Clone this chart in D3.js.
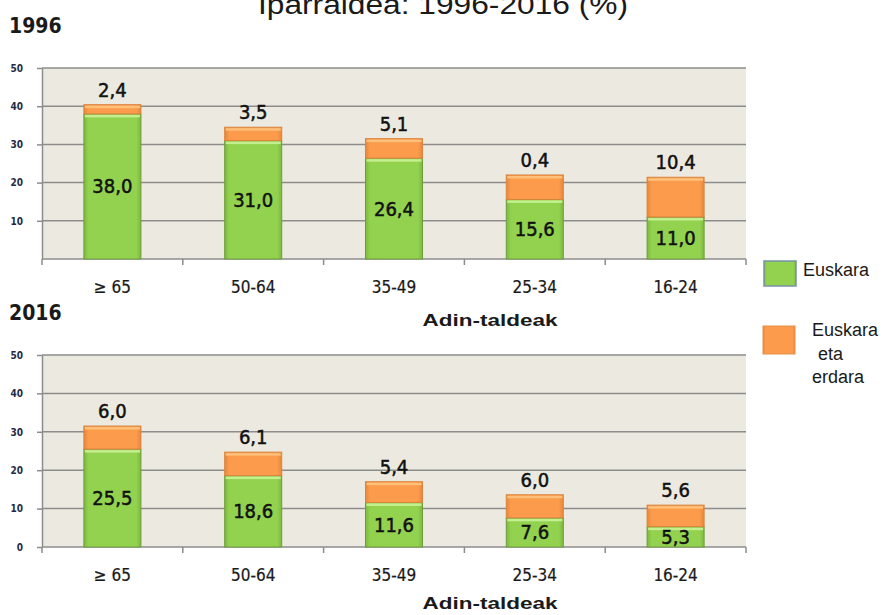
<!DOCTYPE html>
<html>
<head>
<meta charset="utf-8">
<script src="https://cdn.jsdelivr.net/npm/d3@7"></script>
<style>
  html, body { margin: 0; padding: 0; background: #fff; }
  svg { display: block; }
</style>
</head>
<body>
<div id="root"></div>
<script>
const width = 891;
const height = 615;

// data
const categories = ['≥ 65', '50-64', '35-49', '25-34', '16-24'];
const euskara1996 = [38.0, 31.0, 26.4, 15.6, 11.0];
const euskaraEtaErdara1996 = [2.4, 3.5, 5.1, 6.4, 10.4];
const orangeLabels1996 = ['2,4', '3,5', '5,1', '0,4', '10,4'];
const euskara2016 = [25.5, 18.6, 11.6, 7.6, 5.3];
const euskaraEtaErdara2016 = [6.0, 6.1, 5.4, 6.0, 5.6];
const orangeLabels2016 = ['6,0', '6,1', '5,4', '6,0', '5,6'];
const yTicks1996 = [10, 20, 30, 40, 50];
const yTicks2016 = [0, 10, 20, 30, 40, 50];
const seriesNames = ['Euskara', 'Euskara eta erdara'];

const fmt = v => d3.format('.1f')(v).replace('.', ',');
const condensed = 'DejaVu Sans Condensed, DejaVu Sans, sans-serif';
const arial = 'Liberation Sans, Arial, sans-serif';

const svg = d3.select('#root')
    .append('svg')
    .attr('width', width)
    .attr('height', height);

const defs = svg.append('defs');
const grad = (id, edge, mid) => {
    const g = defs.append('linearGradient').attr('id', id)
        .attr('x1', 0).attr('x2', 1).attr('y1', 0).attr('y2', 0);
    g.append('stop').attr('offset', '0%').attr('stop-color', edge);
    g.append('stop').attr('offset', '8%').attr('stop-color', mid);
    g.append('stop').attr('offset', '92%').attr('stop-color', mid);
    g.append('stop').attr('offset', '100%').attr('stop-color', edge);
};
grad('gGreen', '#7cb83e', '#93d24f');
grad('gOrange', '#e8863a', '#fb9b4b');
const fills = ['url(#gGreen)', 'url(#gOrange)'];
const strokes = ['#6f9c3c', '#d9843f'];
const highlights = ['#c4ef8e', '#ffc07a'];

// title (cut at the top in the original)
svg.append('text')
    .attr('x', 258).attr('y', 14)
    .attr('font-family', arial)
    .attr('font-size', 27)
    .attr('fill', '#1a1a1a')
    .attr('textLength', 370)
    .attr('lengthAdjust', 'spacingAndGlyphs')
    .text('Iparraldea:  1996-2016 (%)');

const x = d3.scaleBand()
    .domain(categories)
    .range([42, 746])
    .paddingInner(0.595)
    .paddingOuter(0.2975);

function drawPanel(year, top, bottom, titleY, green, orange, orangeLabels, ticks) {
    const g = svg.append('g');
    const y = d3.scaleLinear().domain([0, 50]).range([bottom, top]);

    g.append('text')
        .attr('x', 9).attr('y', top - 35)
        .attr('font-family', condensed)
        .attr('font-weight', 'bold')
        .attr('font-size', 21)
        .attr('fill', '#1a1a1a')
        .text(year);

    g.append('rect')
        .attr('x', 42).attr('y', top)
        .attr('width', 746 - 42).attr('height', bottom - top)
        .attr('fill', '#eceae0');

    g.selectAll('line.grid')
        .data(yTicks1996)
        .join('line')
        .attr('class', 'grid')
        .attr('x1', 42).attr('x2', 746)
        .attr('y1', d => y(d)).attr('y2', d => y(d))
        .attr('stroke', '#8c8c8c')
        .attr('stroke-width', 1.5);

    const yAxis = g.append('g')
        .attr('transform', 'translate(42,0)')
        .call(d3.axisLeft(y).tickValues(ticks).tickSize(5).tickSizeOuter(0));
    yAxis.select('.domain').attr('stroke', '#8c8c8c').attr('stroke-width', 1.5);
    yAxis.selectAll('.tick line').attr('stroke', '#8c8c8c').attr('stroke-width', 1.5);
    yAxis.selectAll('.tick text')
        .attr('x', -19)
        .attr('font-family', condensed)
        .attr('font-weight', 'bold')
        .attr('font-size', 10)
        .attr('fill', '#1f2a44');

    // bottom axis with ticks at band boundaries
    g.append('line')
        .attr('x1', 42).attr('x2', 746)
        .attr('y1', bottom).attr('y2', bottom)
        .attr('stroke', '#8c8c8c').attr('stroke-width', 1.5);
    const bounds = categories.map(c => x(c) - x.step() * x.paddingInner() / 2)
        .concat([746]);
    g.selectAll('line.xt')
        .data(bounds)
        .join('line')
        .attr('class', 'xt')
        .attr('x1', d => d).attr('x2', d => d)
        .attr('y1', bottom).attr('y2', bottom + 6)
        .attr('stroke', '#8c8c8c').attr('stroke-width', 1.5);
    g.selectAll('text.cat')
        .data(categories)
        .join('text')
        .attr('class', 'cat')
        .attr('x', d => x(d) + x.bandwidth() / 2)
        .attr('y', bottom + 34)
        .attr('text-anchor', 'middle')
        .attr('font-family', condensed)
        .attr('font-size', 17)
        .attr('fill', '#1a1a1a')
        .attr('stroke', '#1a1a1a')
        .attr('stroke-width', 0.2)
        .text(d => d);

    g.append('text')
        .attr('x', 490).attr('y', titleY)
        .attr('text-anchor', 'middle')
        .attr('font-family', arial)
        .attr('font-weight', 'bold')
        .attr('font-size', 17)
        .attr('fill', '#1a1a1a')
        .attr('textLength', 135)
        .attr('lengthAdjust', 'spacingAndGlyphs')
        .text('Adin-taldeak');

    const rows = categories.map((c, i) => ({cat: c, s0: green[i], s1: orange[i]}));
    const stacked = d3.stack().keys(['s0', 's1'])(rows);

    stacked.forEach((layer, li) => {
        const seg = g.append('g').selectAll('g')
            .data(layer)
            .join('g');
        seg.append('rect')
            .attr('x', d => x(d.data.cat))
            .attr('y', d => y(d[1]))
            .attr('width', x.bandwidth())
            .attr('height', d => y(d[0]) - y(d[1]))
            .attr('fill', fills[li])
            .attr('stroke', strokes[li])
            .attr('stroke-width', 1);
        seg.append('rect')
            .attr('x', d => x(d.data.cat) + 1)
            .attr('y', d => y(d[1]) + 1)
            .attr('width', x.bandwidth() - 2)
            .attr('height', 2.5)
            .attr('fill', highlights[li]);
    });

    // labels inside the green segments
    g.selectAll('text.gl')
        .data(stacked[0])
        .join('text')
        .attr('class', 'gl')
        .attr('x', d => x(d.data.cat) + x.bandwidth() / 2)
        .attr('y', d => (y(d[0]) + y(d[1])) / 2 + 7)
        .attr('text-anchor', 'middle')
        .attr('font-family', condensed)
        .attr('font-size', 20)
        .attr('fill', '#111')
        .attr('stroke', '#111')
        .attr('stroke-width', 0.5)
        .text(d => fmt(d.data.s0));

    // labels above the bars
    g.selectAll('text.ol')
        .data(stacked[1])
        .join('text')
        .attr('class', 'ol')
        .attr('x', d => x(d.data.cat) + x.bandwidth() / 2)
        .attr('y', d => y(d[1]) - 8)
        .attr('text-anchor', 'middle')
        .attr('font-family', condensed)
        .attr('font-size', 20)
        .attr('fill', '#111')
        .attr('stroke', '#111')
        .attr('stroke-width', 0.5)
        .text((d, i) => orangeLabels[i]);
}

drawPanel('1996', 68, 259, 326, euskara1996, euskaraEtaErdara1996, orangeLabels1996, yTicks1996);
drawPanel('2016', 355, 547, 609, euskara2016, euskaraEtaErdara2016, orangeLabels2016, yTicks2016);

// legend
const legend = svg.append('g');
legend.append('rect')
    .attr('x', 764).attr('y', 261).attr('width', 32).attr('height', 25)
    .attr('fill', fills[0]).attr('stroke', '#7891a8').attr('stroke-width', 1.5);
legend.append('text')
    .attr('x', 803).attr('y', 276)
    .attr('font-family', arial)
    .attr('font-size', 18)
    .attr('fill', '#1a1a1a')
    .text(seriesNames[0]);
legend.append('rect')
    .attr('x', 763).attr('y', 326).attr('width', 32).attr('height', 28)
    .attr('fill', fills[1]).attr('stroke', '#e59148').attr('stroke-width', 1);
const lt = legend.append('text')
    .attr('font-family', arial)
    .attr('font-size', 18)
    .attr('fill', '#1a1a1a');
const words = seriesNames[1].split(' ');
lt.selectAll('tspan')
    .data(words)
    .join('tspan')
    .attr('x', (d, i) => i === 1 ? 818 : 812)
    .attr('y', (d, i) => [336, 360, 383][i])
    .text(d => d);
</script>
</body>
</html>
